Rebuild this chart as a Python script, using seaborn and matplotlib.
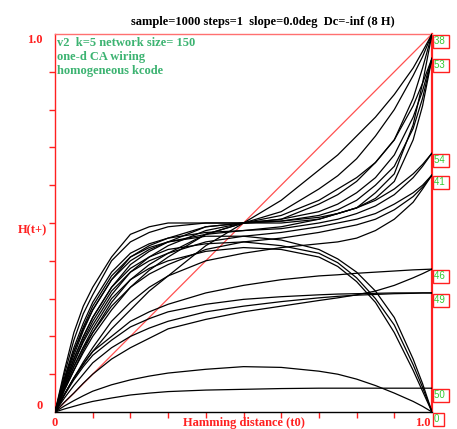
import numpy as np
import pandas as pd
import matplotlib
matplotlib.use("Agg")
import matplotlib.pyplot as plt
import matplotlib.transforms as mtransforms
import seaborn as sns

# Hamming distance at t0 (shared x samples for every curve)
x_t0 = [0, .025, .05, .075, .1, .15, .2, .25, .3, .4, .5, .6, .7, .75, .8, .85, .9, .95, .975, 1.0]

# H(t+) curves, grouped by the end label shown on the right
curves = {
    "38": [
        [0, .046, .09, .126, .16, .22, .27, .32, .36, .44, .50, .56, .64, .68, .73, .78, .84, .91, .954, 1.0],
        [0, .058, .11, .157, .20, .27, .33, .375, .41, .47, .50, .53, .59, .625, .67, .73, .80, .89, .94, 1.0],
        [0, .075, .14, .20, .25, .33, .39, .425, .45, .49, .50, .51, .55, .575, .61, .66, .72, .83, .91, 1.0],
        [0, .11, .21, .28, .33, .41, .47, .49, .50, .50, .50, .50, .51, .525, .54, .58, .63, .76, .87, 1.0],
    ],
    "53": [
        [0, .068, .13, .185, .23, .31, .37, .41, .44, .48, .50, .51, .53, .55, .58, .62, .68, .78, .85, .936],
        [0, .10, .19, .26, .31, .40, .45, .475, .49, .50, .50, .505, .515, .525, .54, .565, .61, .72, .81, .936],
        [0, .085, .16, .22, .27, .35, .41, .44, .46, .49, .50, .505, .52, .535, .56, .60, .65, .75, .83, .936],
        [0, .062, .12, .17, .21, .29, .35, .39, .42, .47, .50, .52, .56, .59, .62, .66, .72, .81, .87, .936],
    ],
    "54": [
        [0, .08, .15, .215, .27, .35, .40, .43, .45, .47, .48, .49, .51, .525, .54, .56, .59, .63, .655, .685],
        [0, .09, .17, .235, .29, .37, .42, .445, .46, .475, .48, .485, .50, .51, .525, .545, .575, .62, .65, .685],
    ],
    "41": [
        [0, .07, .13, .19, .24, .32, .37, .40, .42, .45, .465, .475, .49, .50, .51, .525, .55, .58, .60, .627],
        [0, .058, .11, .163, .21, .28, .33, .365, .39, .43, .45, .46, .475, .485, .495, .51, .535, .57, .595, .627],
        [0, .047, .09, .132, .17, .24, .29, .33, .36, .40, .42, .435, .445, .45, .46, .48, .51, .555, .59, .627],
    ],
    "46": [
        [0, .047, .09, .127, .16, .20, .24, .265, .285, .315, .335, .35, .36, .363, .367, .37, .373, .376, .377, .378],
        [0, .026, .05, .076, .10, .14, .17, .195, .22, .245, .265, .28, .295, .302, .31, .32, .335, .355, .366, .378],
    ],
    "49": [
        [0, .045, .085, .12, .15, .19, .225, .247, .265, .285, .298, .305, .31, .312, .313, .314, .315, .315, .315, .315],
        [0, .037, .07, .10, .13, .17, .20, .222, .24, .265, .28, .292, .302, .306, .309, .311, .313, .314, .315, .315],
    ],
    "50": [
        [0, .008, .015, .022, .028, .037, .045, .05, .054, .058, .06, .062, .063, .063, .063, .063, .063, .063, .063, .063],
    ],
    "0": [
        [0, .085, .16, .225, .28, .36, .41, .435, .45, .465, .465, .455, .43, .405, .37, .32, .25, .14, .075, 0],
        [0, .075, .14, .198, .25, .33, .38, .41, .43, .445, .45, .44, .42, .395, .355, .30, .23, .125, .065, 0],
        [0, .063, .12, .172, .22, .30, .35, .38, .40, .425, .435, .43, .41, .385, .345, .29, .21, .11, .055, 0],
        [0, .016, .03, .043, .055, .072, .085, .095, .103, .113, .12, .118, .108, .10, .087, .07, .05, .028, .015, 0],
    ],
}

title = "sample=1000 steps=1  slope=0.0deg  Dc=-inf (8 H)"
info_lines = ["v2  k=5 network size= 150", "one-d CA wiring", "homogeneous kcode"]

rows = []
n = 0
for label, group in curves.items():
    for ys in group:
        for xv, yv in zip(x_t0, ys):
            rows.append({"t0": xv, "tplus": yv, "curve": n, "end": label})
        n += 1
df = pd.DataFrame(rows)

sns.set_style("white")
serif = "Liberation Serif"
red = "#ff2020"
green = "#3cb371"

fig = plt.figure(figsize=(4.57, 4.29), dpi=100)
ax = fig.add_axes([55 / 457, 17 / 429, 377 / 457, 378 / 429])

# diagonal reference line
ax.plot([0, 1], [0, 1], color="#ff5050", lw=0.9, zorder=2)

sns.lineplot(data=df, x="t0", y="tplus", units="curve", estimator=None,
             color="black", lw=0.9, ax=ax, zorder=3, sort=False)

ax.set_xlim(0, 1)
ax.set_ylim(0, 1)
ax.set_xlabel("")
ax.set_ylabel("")
ax.set_xticks(np.arange(1, 10) / 10)
ax.set_yticks(np.arange(1, 10) / 10)
ax.set_xticklabels([])
ax.set_yticklabels([])
ax.tick_params(axis="both", which="both", direction="out", length=4,
               width=1, color=red, bottom=True, left=True)

for side in ["left", "top", "right"]:
    ax.spines[side].set_color(red)
ax.spines["left"].set_linewidth(1.0)
ax.spines["top"].set_color("#ff7070")
ax.spines["top"].set_linewidth(1.0)
ax.spines["right"].set_linewidth(1.6)
ax.spines["bottom"].set_color("black")
ax.spines["bottom"].set_linewidth(1.0)

lab = dict(color=red, fontsize=9, fontweight="bold", family=serif)
ax.text(-0.032, 1.0, "1.0", ha="right", va="top", transform=ax.transAxes, **lab)
ax.text(-0.032, 0.0, "0", ha="right", va="bottom", transform=ax.transAxes, **lab)
ax.text(-0.021, 0.48, "H(t+)", ha="right", va="center", transform=ax.transAxes, **lab)
ax.text(0.0, -0.012, "0", ha="center", va="top", transform=ax.transAxes, **lab)
ax.text(0.995, -0.012, "1.0", ha="right", va="top", transform=ax.transAxes, **lab)
ax.text(0.5, -0.012, "Hamming distance (t0)", ha="center", va="top",
        transform=ax.transAxes, **lab)

fig.text(263 / 457, 1 - 22 / 429, title, ha="center", va="center",
         fontsize=9, fontweight="bold", family=serif, color="black")

for i, line in enumerate(info_lines):
    ax.text(0.004, 0.975 - i * 0.036, line, ha="left", va="center",
            transform=ax.transAxes, fontsize=9, fontweight="bold",
            family=serif, color=green)

# end labels in boxes on the right edge
blend = mtransforms.blended_transform_factory(ax.transAxes, ax.transData)
for label, group in curves.items():
    yend = group[0][-1]
    ax.annotate(label + " ", xy=(1.0, yend), xycoords=blend,
                xytext=(1.6, -1.6), textcoords="offset points",
                ha="left", va="top", fontsize=7, color="#33cc33",
                family="Liberation Sans", annotation_clip=False,
                bbox=dict(boxstyle="square,pad=0.15", fc="white", ec=red, lw=1.0))

fig.savefig("out.png", dpi=100)
